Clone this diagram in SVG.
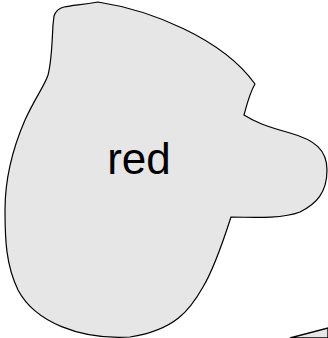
<svg xmlns="http://www.w3.org/2000/svg" width="328" height="338" viewBox="0 0 328 338">
<style>
.blob{fill:#e6e6e6;stroke:#000;stroke-width:1.2}
.lbl{font-family:"Liberation Sans",Arial,sans-serif;font-size:44px;fill:#000;text-anchor:middle}
</style>
<rect width="328" height="338" fill="#fff"/>
<g id="red">
<path class="blob" d="M54,16 C56,10 60,8 64,7 C72,5 80,5 98,2 C150,10 222,38 255,84 C250,92 248,100 244,115 C255,122 265,126 290,133 C315,140 327,150 327,170 C327,193 316,204 300,212 C285,218 260,218 231,217 C222,245 212,272 203,287 C190,310 175,330 130,337 C80,340 35,322 18,290 C6,265 5,240 5,210 C5,180 12,150 25,120 C35,98 45,85 48,75 C52,60 52,40 53,25 Z"/>
<text class="lbl" x="139" y="174">red</text>
</g>
<g id="other">
<path class="blob" d="M290,338 L328,328 L328,338 Z" style="stroke-width:1.4"/>
</g>
</svg>
